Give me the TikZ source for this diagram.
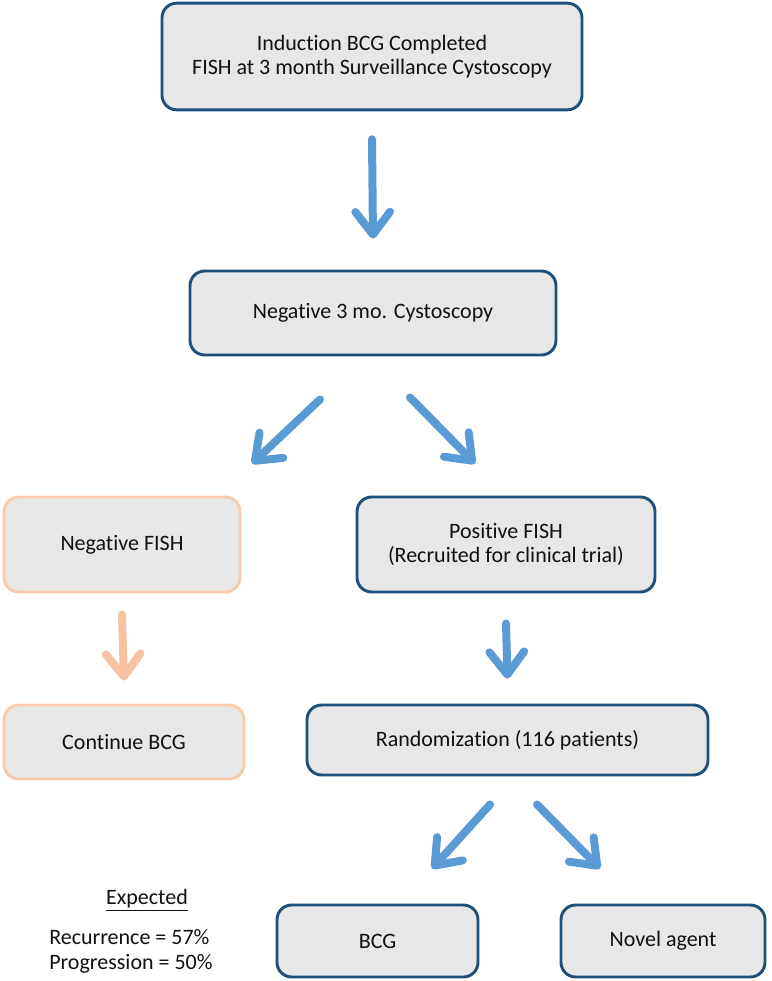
\documentclass[tikz,border=0pt]{standalone}
\usepackage{fontspec}
\setmainfont{Carlito}[Ligatures={NoCommon,NoContextual}]
\usetikzlibrary{arrows.meta,calc}
\definecolor{boxblue}{HTML}{1F4E79}
\definecolor{boxfill}{HTML}{E7E7E7}
\definecolor{flowblue}{HTML}{5B9BD5}
\definecolor{peachline}{HTML}{F8CBAD}
\definecolor{peachflow}{HTML}{F7C2A0}
\definecolor{inktext}{HTML}{111111}
\tikzset{
	bluebox/.style={draw=boxblue, fill=boxfill, line width=2.2pt, rounded corners=11pt,
		align=center, text=inktext, font=\fontsize{16.5}{18.5}\selectfont, inner sep=0pt},
	peachbox/.style={bluebox, draw=peachline},
	flow/.style={draw=flowblue, line width=6pt, line cap=round,
		-{Straight Barb[length=17pt, width=26pt, line width=6pt, round]}},
	peachflow/.style={flow, draw=peachflow},
	plain/.style={text=inktext, font=\fontsize{16.5}{19}\selectfont, inner sep=0pt}
}

\begin{document}
\begin{tikzpicture}[x=0.75pt, y=-0.75pt]
		%%%%% START %%%%%
		\useasboundingbox (0,0) rectangle (771,981);
		
		\node[bluebox, minimum width=315pt, minimum height=80pt] (induct) at (372,56.5)
			{Induction BCG Completed\\FISH at 3 month Surveillance Cystoscopy};
		\node[bluebox, minimum width=274.5pt, minimum height=63pt] (neg3) at (373,313)
			{Negative 3 mo. Cystoscopy};
		
		\node[peachbox, minimum width=177pt, minimum height=71.25pt] (negfish) at (122,544.5)
			{Negative FISH};
		\node[bluebox, minimum width=223.5pt, minimum height=71.25pt] (posfish) at (506,544.5)
			{Positive FISH\\(Recruited for clinical trial)};
		
		\node[peachbox, minimum width=180pt, minimum height=55.5pt] (contbcg) at (124,742)
			{Continue BCG};
		\node[bluebox, minimum width=300.75pt, minimum height=52.5pt] (random) at (507.5,740)
			{Randomization (116 patients)};
		
		\node[bluebox, minimum width=150.75pt, minimum height=54pt] (bcg) at (377.5,941) {BCG};
		\node[bluebox, minimum width=153pt, minimum height=54pt] (novel) at (663,941) {Novel agent};
		
		\node[plain] (expected) at (147,900) {\underline{Expected}};
		\node[plain, anchor=north west, align=left] (outcome) at (49,929)
			{Recurrence = 57\%\\Progression = 50\%};
		
		% arrows
		\draw[flow] ([yshift=-21pt]induct.south) -- ([yshift=23.25pt]neg3.north);
		\draw[flow] ([shift={(-39.75pt,-32.25pt)}]neg3.south) -- ([shift={(97.5pt,24pt)}]negfish.north);
		\draw[flow] ([shift={(27.75pt,-30.75pt)}]neg3.south) -- ([shift={(-23.25pt,24pt)}]posfish.north);
		\draw[peachflow] ([yshift=-15.75pt]negfish.south) -- ([yshift=17.25pt]contbcg.north);
		\draw[flow] ([yshift=-22.5pt]posfish.south) -- ([yshift=18.75pt]random.north);
		\draw[flow] ([shift={(-13.1pt,-21pt)}]random.south) -- ([shift={(40.9pt,26.25pt)}]bcg.north);
		\draw[flow] ([shift={(22.1pt,-21pt)}]random.south) -- ([shift={(-47.25pt,26.25pt)}]novel.north);
		
		%%%%% END %%%%%
\end{tikzpicture}
\end{document}
